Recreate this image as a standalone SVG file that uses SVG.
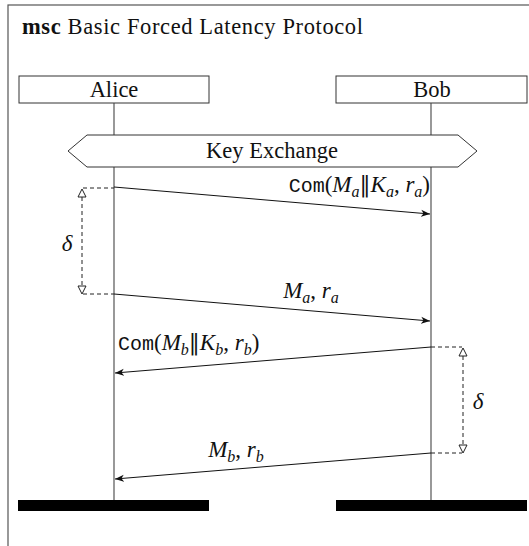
<svg xmlns="http://www.w3.org/2000/svg" width="529" height="546" viewBox="0 0 529 546">
<defs>
<style>
text{font-family:'Liberation Serif','DejaVu Serif','Times New Roman',Times,serif}
.t{font-size:22.5px;fill:#111}
.m{font-style:italic;font-size:23px;fill:#111}
.tt{font-family:'Liberation Mono','DejaVu Sans Mono','Courier New',monospace;font-style:normal;font-size:20px}
.up{font-style:normal}
.s{font-size:16px}
.bb{font-style:normal;font-family:'DejaVu Serif',serif;font-size:22px}
.box{fill:#fff;stroke:#333;stroke-width:1}
.life{stroke:#444;stroke-width:1.1;fill:none}
.msg{stroke:#111;stroke-width:1;fill:none;marker-end:url(#arr)}
.dash{stroke:#222;stroke-width:1;fill:none;stroke-dasharray:4 3}
.tri{fill:#fff;stroke:#222;stroke-width:1}
.bar{fill:#000}
</style>
<marker id="arr" markerUnits="userSpaceOnUse" markerWidth="12" markerHeight="10" refX="9" refY="4" orient="auto">
<path d="M0,0.5 L9,4 L0,7.5 L2.5,4 z" fill="#111"/>
</marker>
</defs>
<rect width="529" height="546" fill="#fff"/>
<g id="frame">
<rect x="8" y="5" width="540" height="560" fill="none" stroke="#555" stroke-width="1.2"/>
<text class="t" x="22" y="34" textLength="341"><tspan font-weight="bold">msc</tspan> Basic Forced Latency Protocol</text>
</g>
<g id="alice">
<rect class="box" x="19" y="76" width="190" height="27"/>
<text class="t" x="114" y="97" text-anchor="middle">Alice</text>
</g>
<g id="bob">
<rect class="box" x="336" y="76" width="191" height="27"/>
<text class="t" x="432" y="97" text-anchor="middle">Bob</text>
</g>
<g id="lifelines">
<line class="life" x1="114" y1="103" x2="114" y2="500"/>
<line class="life" x1="431" y1="103" x2="431" y2="500"/>
</g>
<g id="key-exchange">
<polygon class="box" points="68,151 87,135 458,135 477,151 458,167 87,167"/>
<text class="t" x="272" y="158" text-anchor="middle">Key Exchange</text>
</g>
<g id="connectors">
<line class="msg" x1="114" y1="187" x2="430" y2="214"/>
<line class="msg" x1="114" y1="294" x2="430" y2="321"/>
<line class="msg" x1="431" y1="347" x2="115" y2="373"/>
<line class="msg" x1="431" y1="453" x2="115" y2="479"/>
</g>
<g id="labels">
<text class="m" x="430" y="192" text-anchor="end"><tspan class="tt">Com</tspan><tspan class="up">(</tspan>M<tspan class="s" dy="4.5">a</tspan><tspan class="bb" dy="-4.5">‖</tspan>K<tspan class="s" dy="4.5">a</tspan><tspan class="up" dy="-4.5">, </tspan>r<tspan class="s" dy="4.5">a</tspan><tspan class="up" dy="-4.5">)</tspan></text>
<text class="m" x="311" y="298" text-anchor="middle">M<tspan class="s" dy="4.5">a</tspan><tspan class="up" dy="-4.5">, </tspan>r<tspan class="s" dy="4.5">a</tspan></text>
<text class="m" x="118" y="350"><tspan class="tt">Com</tspan><tspan class="up">(</tspan>M<tspan class="s" dy="4.5">b</tspan><tspan class="bb" dy="-4.5">‖</tspan>K<tspan class="s" dy="4.5">b</tspan><tspan class="up" dy="-4.5">, </tspan>r<tspan class="s" dy="4.5">b</tspan><tspan class="up" dy="-4.5">)</tspan></text>
<text class="m" x="236" y="457" text-anchor="middle">M<tspan class="s" dy="4.5">b</tspan><tspan class="up" dy="-4.5">, </tspan>r<tspan class="s" dy="4.5">b</tspan></text>
</g>
<g id="delay-alice">
<line class="dash" x1="83" y1="188" x2="114" y2="188"/>
<line class="dash" x1="82" y1="197" x2="82" y2="286"/>
<line class="dash" x1="83" y1="294" x2="114" y2="294"/>
<polygon class="tri" points="82,189 78,197 86,197"/>
<polygon class="tri" points="82,294 78,286 86,286"/>
<text class="m" x="67" y="251" text-anchor="middle">δ</text>
</g>
<g id="delay-bob">
<line class="dash" x1="431" y1="347" x2="462" y2="347"/>
<line class="dash" x1="463" y1="356" x2="463" y2="445"/>
<line class="dash" x1="431" y1="453" x2="462" y2="453"/>
<polygon class="tri" points="463,348 459,356 467,356"/>
<polygon class="tri" points="463,453 459,445 467,445"/>
<text class="m" x="478" y="409" text-anchor="middle">δ</text>
</g>
<g id="end-bars">
<rect class="bar" x="18" y="500" width="191" height="11"/>
<rect class="bar" x="336" y="500" width="191" height="11"/>
</g>
</svg>
